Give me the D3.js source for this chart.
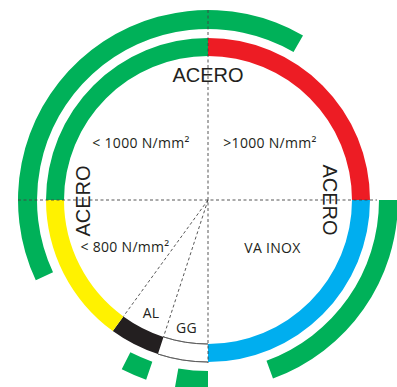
<!DOCTYPE html>
<html>
<head>
<meta charset="utf-8">
<script src="https://cdn.jsdelivr.net/npm/d3@7"></script>
<style>
  html, body { margin: 0; padding: 0; background: #fff; }
  svg { display: block; }
</style>
</head>
<body>
<svg id="chart" width="397" height="387"></svg>
<script>
// ---- data (angles in degrees, clockwise from top) ----
const innerCategories = ["ACERO < 1000", "ACERO > 1000", "VA INOX", "GG", "AL", "ACERO < 800"];
const innerStart = [-90, 0, 90, 180, 198, 216];
const innerEnd   = [0, 90, 180, 198, 216, 270];

const outerCategories = ["A", "B", "C", "D"];
const outerStart = [-115, 90, 180, 199];
const outerEnd   = [30, 160, 190, 207];

const dividerAngles = [198, 216];

const labelTexts = ["ACERO", "< 1000 N/mm²", ">1000 N/mm²", "ACERO", "ACERO", "< 800 N/mm²", "VA INOX", "AL", "GG"];

// ---- styles ----
const innerColors = {
  "ACERO < 1000": "#00b159",
  "ACERO > 1000": "#ed1c24",
  "VA INOX": "#00aeef",
  "GG": "#ffffff",
  "AL": "#231f20",
  "ACERO < 800": "#fff200"
};
const green = "#00b159";

const W = 397, H = 387;
const cx = 208, cy = 200;
const rInner0 = 144, rInner1 = 162;
const rOuter0 = 171, rOuter1 = 190;

const ang = d3.scaleLinear().domain([0, 360]).range([0, 2 * Math.PI]);

const svg = d3.select("#chart");
const g = svg.append("g").attr("transform", `translate(${cx},${cy})`);

const innerArc = d3.arc().innerRadius(rInner0).outerRadius(rInner1);
const outerArc = d3.arc().innerRadius(rOuter0).outerRadius(rOuter1);

const innerData = innerCategories.map((c, i) => ({ cat: c, startAngle: ang(innerStart[i]), endAngle: ang(innerEnd[i]) }));
const outerData = outerCategories.map((c, i) => ({ cat: c, startAngle: ang(outerStart[i]), endAngle: ang(outerEnd[i]) }));

// outer ring
g.selectAll("path.outer").data(outerData).enter().append("path")
  .attr("class", "outer")
  .attr("d", outerArc)
  .attr("fill", green);

// inner ring
g.selectAll("path.inner").data(innerData).enter().append("path")
  .attr("class", "inner")
  .attr("d", innerArc)
  .attr("fill", d => innerColors[d.cat]);

// thin outline on the white (GG) segment
const gg = innerData.find(d => d.cat === "GG");
[rInner0, rInner1].forEach(r => {
  g.append("path")
    .attr("d", d3.arc().innerRadius(r).outerRadius(r)({ startAngle: gg.startAngle, endAngle: gg.endAngle }))
    .attr("fill", "none")
    .attr("stroke", "#555")
    .attr("stroke-width", 0.8);
});

// dashed guide lines
const dash = "3,2.5";
const dashColor = "#444";
g.append("line").attr("x1", -rOuter1).attr("x2", rOuter0 - 2).attr("y1", 0).attr("y2", 0)
  .attr("stroke", dashColor).attr("stroke-width", 0.9).attr("stroke-dasharray", dash);
g.append("line").attr("x1", 0).attr("x2", 0).attr("y1", -rOuter1).attr("y2", rInner1 + 1)
  .attr("stroke", dashColor).attr("stroke-width", 0.9).attr("stroke-dasharray", dash);
dividerAngles.forEach(a => {
  const t = ang(a);
  g.append("line")
    .attr("x1", 0).attr("y1", 0)
    .attr("x2", rInner0 * Math.sin(t)).attr("y2", -rInner0 * Math.cos(t))
    .attr("stroke", dashColor).attr("stroke-width", 0.9).attr("stroke-dasharray", dash);
});

// labels
const labelPos = [
  { x: 208, y: 82, rot: 0, big: true },
  { x: 141, y: 148, rot: 0 },
  { x: 270, y: 148, rot: 0 },
  { x: 90, y: 201, rot: -90, big: true },
  { x: 323, y: 200, rot: 90, big: true },
  { x: 125, y: 252, rot: 0 },
  { x: 272.5, y: 253, rot: 0 },
  { x: 151, y: 318, rot: 0 },
  { x: 186.5, y: 333, rot: 0 }
];
labelTexts.forEach((t, i) => {
  const p = labelPos[i];
  svg.append("text")
    .attr("transform", `translate(${p.x},${p.y}) rotate(${p.rot})`)
    .attr("text-anchor", "middle")
    .attr("font-family", p.big ? "'Liberation Sans', Arial, sans-serif" : "'Open Sans', sans-serif")
    .attr("font-size", p.big ? 20 : 14)
    .attr("letter-spacing", p.big ? 0 : 0.3)
    .attr("fill", "#231f20")
    .text(t);
});
</script>
</body>
</html>
